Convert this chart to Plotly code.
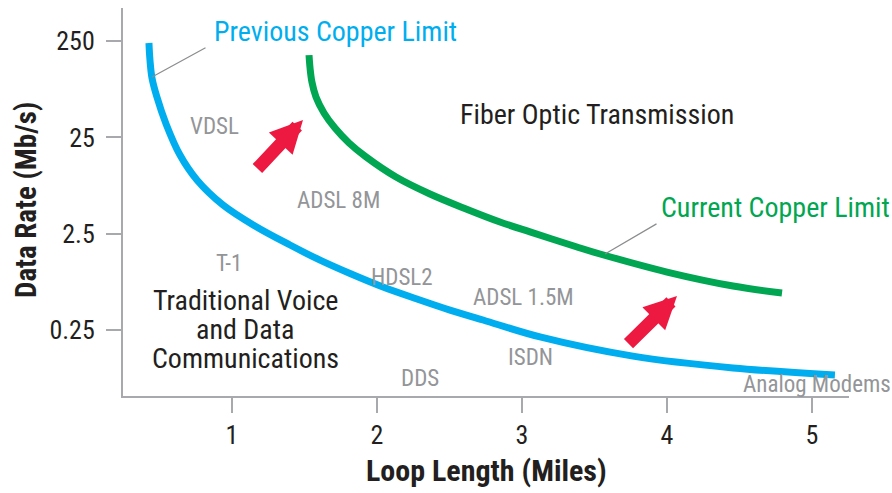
import plotly.graph_objects as go

# ---- data ----
prev_x = [0.427, 0.434, 0.448, 0.482, 0.545, 0.641, 0.758, 0.938, 1.158, 1.400, 1.607, 1.814,
          2.041, 2.276, 2.503, 2.731, 3.124, 3.765, 4.455, 5.158]
prev_y = [239, 159, 103.5, 65.7, 34.5, 16.4, 9.04, 4.97, 3.01, 1.91, 1.33, 0.966,
          0.70, 0.525, 0.403, 0.318, 0.212, 0.134, 0.101, 0.0853]

curr_x = [1.531, 1.538, 1.551, 1.579, 1.634, 1.710, 1.807, 1.924, 2.131, 2.365, 2.614, 2.848,
          3.055, 3.379, 3.538, 4.0, 4.455, 4.793]
curr_y = [179, 131.5, 94.1, 65.7, 44.9, 31.3, 21.9, 15.7, 9.71, 6.47, 4.52, 3.31,
          2.61, 1.82, 1.54, 1.0, 0.716, 0.605]

x_ticks = [1, 2, 3, 4, 5]
y_ticks = [0.25, 2.5, 25, 250]
y_tick_text = ["0.25", "2.5", "25", "250"]

tech_labels = ["VDSL", "ADSL 8M", "T-1", "HDSL2", "ADSL 1.5M", "ISDN", "DDS", "Analog Modems"]
region_lines = ["Traditional Voice", "and Data", "Communications"]

# ---- layout geometry (pixels) ----
W, H = 892, 493
L, R, T, B = 123, 849, 8, 396          # plot area
FONT = "Liberation Sans Narrow, Arial Narrow, Roboto Condensed, DejaVu Sans Condensed, sans-serif"
BLUE = "#00AEEF"
GREEN = "#00A651"
RED = "#ED1941"
GRAY = "#939598"
AXIS = "#A7A9AC"
INK = "#231F20"


def px(xp):
    return (xp - L) / (R - L)


def py(yp):
    return (B - yp) / (B - T)


def label(text, xp, yp, size, color, bold=False, angle=0):
    return dict(text=f"<b>{text}</b>" if bold else text, x=px(xp), y=py(yp),
                xref="paper", yref="paper", showarrow=False, textangle=angle,
                xanchor="center", yanchor="middle",
                font=dict(family=FONT, size=size, color=color))


fig = go.Figure()
fig.add_trace(go.Scatter(x=prev_x, y=prev_y, mode="lines",
                         line=dict(color=BLUE, width=7, shape="spline", smoothing=1.0),
                         hoverinfo="skip", showlegend=False))
fig.add_trace(go.Scatter(x=curr_x, y=curr_y, mode="lines",
                         line=dict(color=GREEN, width=7, shape="spline", smoothing=1.0),
                         hoverinfo="skip", showlegend=False))

ann = []
# gray technology labels
tech_pos = [(214, 126), (338, 200), (229, 263), (402, 277), (523, 297), (530, 357), (420, 378), (817, 384)]
for t, (xp, yp) in zip(tech_labels, tech_pos):
    ann.append(label(t, xp, yp, 23, GRAY))

# region labels
ann.append(label("Fiber Optic Transmission", 597, 114, 28, INK))
for line, yp in zip(region_lines, [300, 329, 358]):
    ann.append(label(line, 245, yp, 28, INK))

# curve labels
ann.append(label("Previous Copper Limit", 335, 31, 28, BLUE))
ann.append(label("Current Copper Limit", 775, 208, 28, GREEN))

# axis titles
ann.append(label("Loop Length (Miles)", 486, 470, 30, INK, bold=True))
ann.append(label("Data Rate (Mb/s)", 26, 200, 29, INK, bold=True, angle=-90))

# leader lines
ann.append(dict(text="", x=px(152), y=py(77), xref="paper", yref="paper", showarrow=True,
                ax=55, ay=-30, arrowhead=0, arrowwidth=1.2, arrowcolor="#8A8C8E", standoff=0))
ann.append(dict(text="", x=px(605), y=py(254), xref="paper", yref="paper", showarrow=True,
                ax=53, ay=-31, arrowhead=0, arrowwidth=1.2, arrowcolor="#8A8C8E", standoff=0))

# red arrows
ann.append(dict(text="", x=px(303), y=py(120), xref="paper", yref="paper", showarrow=True,
                ax=-47, ay=50, arrowhead=2, arrowwidth=13, arrowsize=0.5, arrowcolor=RED, standoff=0))
ann.append(dict(text="", x=px(677), y=py(296), xref="paper", yref="paper", showarrow=True,
                ax=-50, ay=49, arrowhead=2, arrowwidth=13, arrowsize=0.5, arrowcolor=RED, standoff=0))

fig.update_layout(
    width=W, height=H,
    margin=dict(l=L, r=W - R, t=T, b=H - B, autoexpand=False),
    paper_bgcolor="white", plot_bgcolor="white",
    annotations=ann,
    font=dict(family=FONT, color=INK),
    xaxis=dict(range=[0.248, 5.255], tickvals=x_ticks, ticktext=[str(v) for v in x_ticks],
               showgrid=False, zeroline=False, showline=True, linecolor=AXIS, linewidth=2,
               ticks="outside", ticklen=15, tickcolor=AXIS, tickwidth=1.5, automargin=False,
               tickfont=dict(family=FONT, size=26, color=INK)),
    yaxis=dict(type="log", range=[-1.287, 2.742], tickvals=y_ticks, ticktext=y_tick_text,
               showgrid=False, zeroline=False, showline=True, linecolor=AXIS, linewidth=2,
               ticks="outside", ticklen=15, tickcolor=AXIS, tickwidth=1.5, automargin=False,
               ticklabelstandoff=6,
               tickfont=dict(family=FONT, size=26, color=INK)),
)

# remove the default page margin so the figure fills the window exactly
fig.write_html("out.html", config={"displayModeBar": False},
               post_script="document.body.style.margin='0';document.body.style.overflow='hidden';")
